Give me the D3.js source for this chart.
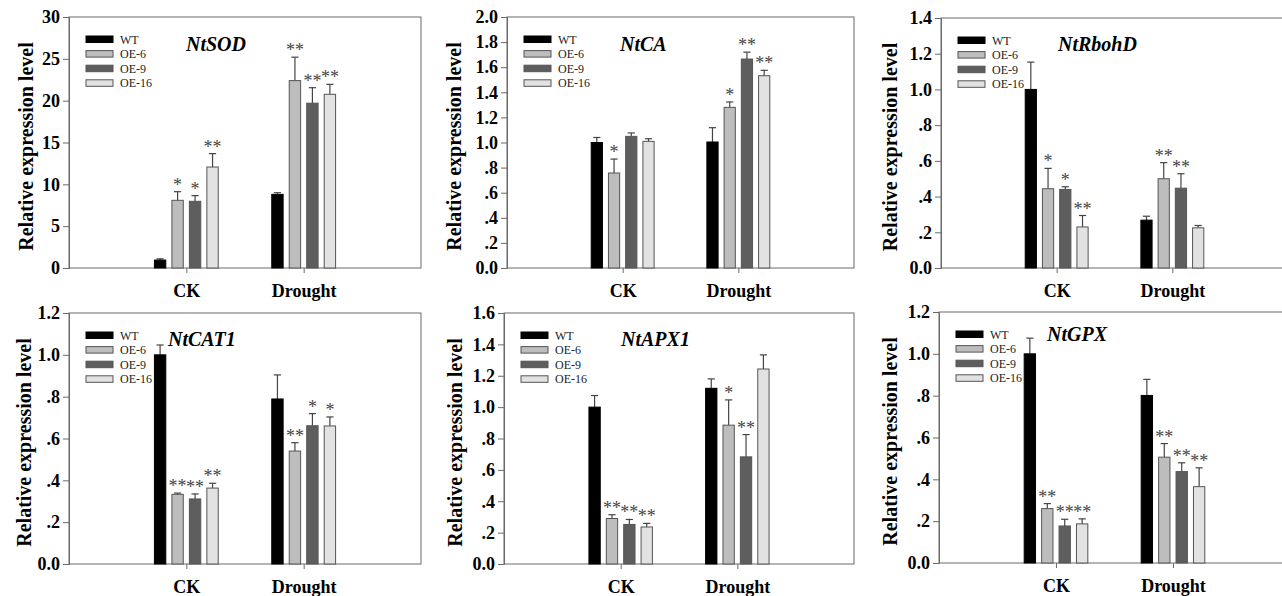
<!DOCTYPE html>
<html><head><meta charset="utf-8">
<script src="https://cdn.jsdelivr.net/npm/d3@7/dist/d3.min.js"></script>
<style>
html,body{margin:0;padding:0;background:#fff;}
svg{display:block;}
svg text{font-family:"Liberation Serif","Times New Roman",serif;}
</style></head>
<body>
<svg id="chart" width="1282" height="596"></svg>
<script>
// ---- data ----
const conditions = ["CK", "Drought"];
const lines = ["WT", "OE-6", "OE-9", "OE-16"];
const genes = ["NtSOD", "NtCA", "NtRbohD", "NtCAT1", "NtAPX1", "NtGPX"];

// values ordered: CK WT, CK OE-6, CK OE-9, CK OE-16, Drought WT, Drought OE-6, Drought OE-9, Drought OE-16
const sodMean = [0.95, 8.09, 7.97, 12.07, 8.8, 22.4, 19.7, 20.76];
const sodErr  = [0.15, 1.03, 0.68, 1.6, 0.2, 2.8, 1.85, 1.19];
const sodSig  = ["", "*", "*", "**", "", "**", "**", "**"];

const caMean = [1.0, 0.757, 1.049, 1.009, 1.004, 1.28, 1.665, 1.532];
const caErr  = [0.04, 0.111, 0.027, 0.021, 0.114, 0.043, 0.055, 0.043];
const caSig  = ["", "*", "", "", "", "*", "**", "**"];

const rbohMean = [1.0, 0.444, 0.44, 0.23, 0.268, 0.5, 0.447, 0.225];
const rbohErr  = [0.153, 0.114, 0.015, 0.064, 0.022, 0.09, 0.081, 0.013];
const rbohSig  = ["", "*", "*", "**", "", "**", "**", ""];

const catMean = [1.0, 0.333, 0.311, 0.363, 0.789, 0.54, 0.661, 0.66];
const catErr  = [0.047, 0.006, 0.024, 0.023, 0.115, 0.04, 0.058, 0.043];
const catSig  = ["", "**", "**", "**", "", "**", "*", "*"];

const apxMean = [1.0, 0.29, 0.252, 0.236, 1.12, 0.885, 0.683, 1.243];
const apxErr  = [0.074, 0.024, 0.032, 0.023, 0.06, 0.161, 0.142, 0.09];
const apxSig  = ["", "**", "**", "**", "", "*", "**", ""];

const gpxMean = [1.0, 0.26, 0.177, 0.187, 0.801, 0.506, 0.437, 0.365];
const gpxErr  = [0.075, 0.024, 0.032, 0.024, 0.077, 0.065, 0.042, 0.09];
const gpxSig  = ["", "**", "**", "**", "", "**", "**", "**"];

const sodTicks = [0, 5, 10, 15, 20, 25, 30];
const sodTickLabels = ["0", "5", "10", "15", "20", "25", "30"];
const caTicks = [0, 0.2, 0.4, 0.6, 0.8, 1.0, 1.2, 1.4, 1.6, 1.8, 2.0];
const caTickLabels = ["0.0", ".2", ".4", ".6", ".8", "1.0", "1.2", "1.4", "1.6", "1.8", "2.0"];
const rbohTicks = [0, 0.2, 0.4, 0.6, 0.8, 1.0, 1.2, 1.4];
const rbohTickLabels = ["0.0", ".2", ".4", ".6", ".8", "1.0", "1.2", "1.4"];
const catTicks = [0, 0.2, 0.4, 0.6, 0.8, 1.0, 1.2];
const catTickLabels = ["0.0", ".2", ".4", ".6", ".8", "1.0", "1.2"];
const apxTicks = [0, 0.2, 0.4, 0.6, 0.8, 1.0, 1.2, 1.4, 1.6];
const apxTickLabels = ["0.0", ".2", ".4", ".6", ".8", "1.0", "1.2", "1.4", "1.6"];
const gpxTicks = [0, 0.2, 0.4, 0.6, 0.8, 1.0, 1.2];
const gpxTickLabels = ["0.0", ".2", ".4", ".6", ".8", "1.0", "1.2"];

const yLabel = "Relative expression level";

// ---- layout / style ----
const FONT = "'Liberation Serif','Times New Roman',serif";
const fills = ["#000000", "#bdbdbd", "#5e5e5e", "#e2e2e2"];
const panelData = [
  {mean: sodMean, err: sodErr, sig: sodSig, ticks: sodTicks, labels: sodTickLabels},
  {mean: caMean, err: caErr, sig: caSig, ticks: caTicks, labels: caTickLabels},
  {mean: rbohMean, err: rbohErr, sig: rbohSig, ticks: rbohTicks, labels: rbohTickLabels},
  {mean: catMean, err: catErr, sig: catSig, ticks: catTicks, labels: catTickLabels},
  {mean: apxMean, err: apxErr, sig: apxSig, ticks: apxTicks, labels: apxTickLabels},
  {mean: gpxMean, err: gpxErr, sig: gpxSig, ticks: gpxTicks, labels: gpxTickLabels}
];
const layout = [
  {left: 69,  top: 17,  right: 421,  bottom: 268, titleDx: 117, titleDy: 34, yTitleDx: 43},
  {left: 507, top: 17,  right: 854,  bottom: 268, titleDx: 113, titleDy: 34, yTitleDx: 53},
  {left: 941, top: 18,  right: 1288, bottom: 268, titleDx: 117, titleDy: 33, yTitleDx: 51},
  {left: 69,  top: 313, right: 421,  bottom: 564, titleDx: 99,  titleDy: 33, yTitleDx: 45},
  {left: 504, top: 313, right: 854,  bottom: 564, titleDx: 117, titleDy: 33, yTitleDx: 49},
  {left: 939, top: 312, right: 1290, bottom: 563, titleDx: 108, titleDy: 29, yTitleDx: 49}
];

const svg = d3.select("#chart");
svg.append("rect").attr("width", 1282).attr("height", 596).attr("fill", "#fff");
const axisColor = "#6a6a6a";

genes.forEach((gene, gi) => {
  const L = layout[gi];
  const P = panelData[gi];
  const g = svg.append("g").attr("font-family", FONT);
  const yMax = P.ticks[P.ticks.length - 1];
  const y = d3.scaleLinear().domain([0, yMax]).range([L.bottom, L.top]);
  const x = d3.scaleLinear().domain([0, 3]).range([L.left, L.right]);
  const step = 0.149, bw = 0.097;

  // frame
  g.append("rect").attr("x", L.left).attr("y", L.top)
    .attr("width", L.right - L.left).attr("height", L.bottom - L.top)
    .attr("fill", "none").attr("stroke", axisColor).attr("stroke-width", 1);

  // y axis
  const yAxis = d3.axisLeft(y).tickValues(P.ticks)
    .tickFormat((d, i) => P.labels[i]).tickSize(6).tickPadding(3);
  const ya = g.append("g").attr("transform", `translate(${L.left},0)`).call(yAxis);
  ya.attr("font-family", FONT);
  ya.select(".domain").attr("stroke", axisColor);
  ya.selectAll(".tick line").attr("stroke", axisColor);
  ya.selectAll(".tick text").attr("fill", "#000").attr("font-family", FONT)
    .attr("font-weight", "bold").attr("font-size", 18);

  // x axis
  const catPos = conditions.map((c, i) => i + 1);
  const xAxis = d3.axisBottom(x).tickValues(catPos)
    .tickFormat((d, i) => conditions[i]).tickSize(5).tickPadding(11);
  const xa = g.append("g").attr("transform", `translate(0,${L.bottom})`).call(xAxis);
  xa.attr("font-family", FONT);
  xa.select(".domain").remove();
  xa.selectAll(".tick line").attr("stroke", axisColor);
  xa.selectAll(".tick text").attr("fill", "#000").attr("font-family", FONT)
    .attr("font-weight", "bold").attr("font-size", 18);

  // bars
  const items = P.mean.map((m, k) => ({
    m, e: P.err[k], s: P.sig[k], ci: Math.floor(k / 4), li: k % 4
  }));
  const cx = d => x(d.ci + 1 + (d.li - 1.5) * step);
  const halfW = (x(bw) - x(0)) / 2;

  // error bars (upper only)
  g.selectAll(".eb").data(items).enter().append("line")
    .attr("x1", cx).attr("x2", cx)
    .attr("y1", d => y(d.m)).attr("y2", d => y(d.m + d.e))
    .attr("stroke", "#444").attr("stroke-width", 1.2);
  g.selectAll(".cap").data(items).enter().append("line")
    .attr("x1", d => cx(d) - 3.6).attr("x2", d => cx(d) + 3.6)
    .attr("y1", d => y(d.m + d.e)).attr("y2", d => y(d.m + d.e))
    .attr("stroke", "#444").attr("stroke-width", 1.2);

  g.selectAll(".bar").data(items).enter().append("rect")
    .attr("x", d => cx(d) - halfW).attr("width", halfW * 2)
    .attr("y", d => y(d.m)).attr("height", d => y(0) - y(d.m))
    .attr("fill", d => fills[d.li])
    .attr("stroke", d => d.li === 0 ? "#000" : "#555").attr("stroke-width", 1);

  // significance
  g.selectAll(".sig").data(items.filter(d => d.s)).enter().append("text")
    .attr("x", cx).attr("y", d => y(d.m + d.e) - 1)
    .attr("text-anchor", "middle").attr("fill", "#444")
    .attr("font-size", 18).text(d => d.s);

  // legend
  const lg = g.append("g").attr("transform", `translate(${L.left + 17},${L.top + 22})`);
  lines.forEach((ln, i) => {
    lg.append("rect").attr("x", 0).attr("y", i * 14.6 - 3).attr("width", 27).attr("height", 6.5)
      .attr("fill", fills[i]).attr("stroke", i === 0 ? "#000" : "#555").attr("stroke-width", 1);
    lg.append("text").attr("x", 34).attr("y", i * 14.6 + 4.5).attr("fill", "#222")
      .attr("font-size", 12).text(ln);
  });

  // title
  g.append("text").attr("x", L.left + L.titleDx).attr("y", L.top + L.titleDy)
    .attr("font-size", 20).attr("font-weight", "bold").attr("font-style", "italic")
    .attr("fill", "#000").text(gene);

  // y axis title
  const ym = (L.top + L.bottom) / 2 + 4;
  g.append("text").attr("transform", `translate(${L.left - L.yTitleDx},${ym}) rotate(-90)`)
    .attr("text-anchor", "middle").attr("dominant-baseline", "central")
    .attr("font-size", 20).attr("font-weight", "bold").attr("fill", "#000").text(yLabel);
});
</script>
</body></html>
